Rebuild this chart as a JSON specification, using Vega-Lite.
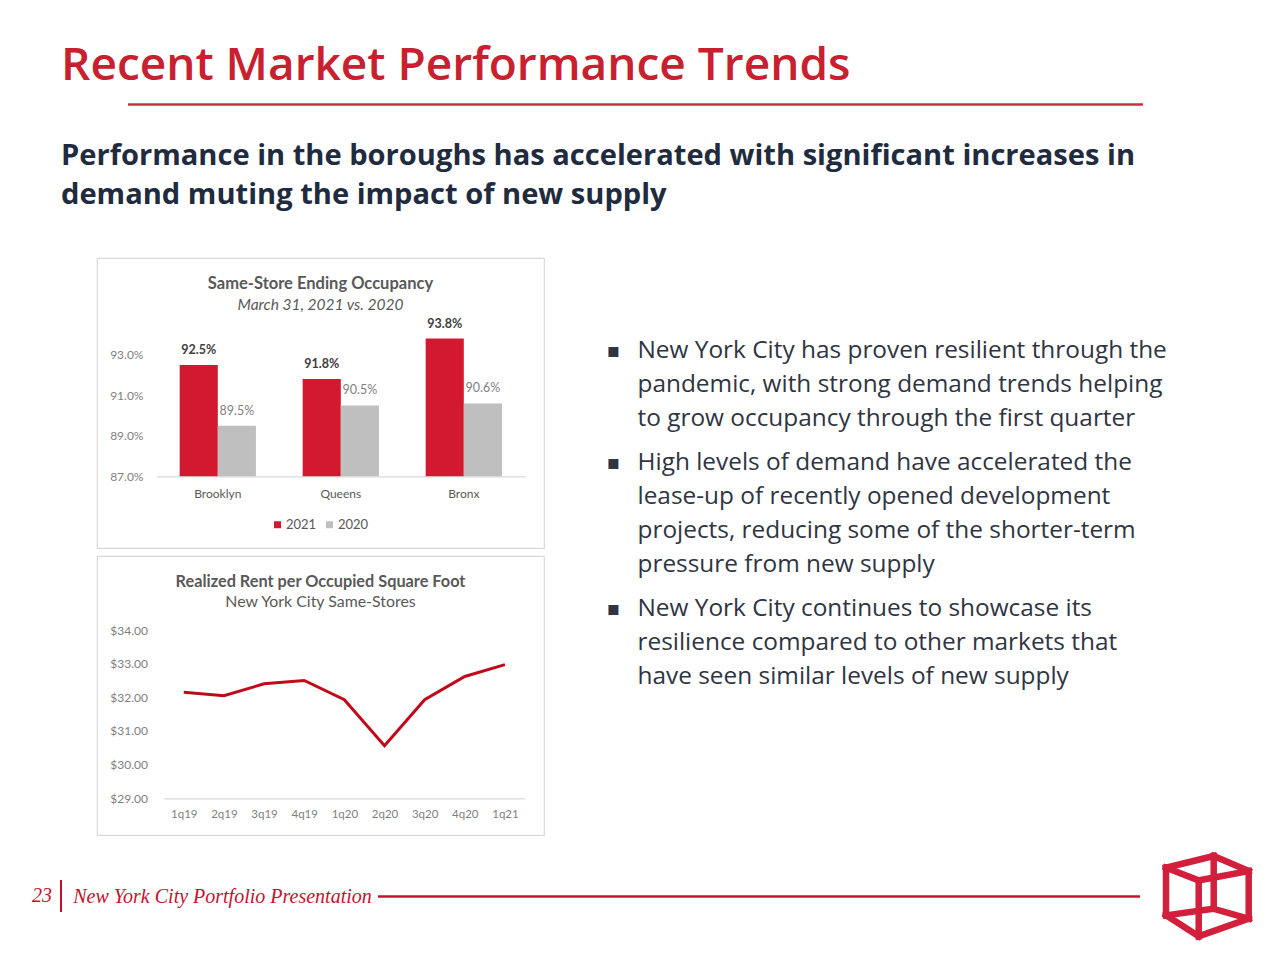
{
  "$schema": "https://vega.github.io/schema/vega-lite/v6.json",
  "background": "white",
  "padding": {"left": 0, "top": 43, "right": 0, "bottom": 0},
  "title": {"text": "Recent Market Performance Trends", "anchor": "start", "frame": "bounds", "dx": 61, "offset": 13, "font": "Open Sans", "fontSize": 46, "fontWeight": 600, "color": "#c8202f", "baseline": "top"},
  "config": {"view": {"stroke": null}, "font": "Lato", "axis": {"grid": false}},
  "datasets": {
    "bullets": [
      {"p": 1, "line": 1, "text": "New York City has proven resilient through the"},
      {"p": 1, "line": 2, "text": "pandemic, with strong demand trends helping"},
      {"p": 1, "line": 3, "text": "to grow occupancy through the first quarter"},
      {"p": 2, "line": 1, "text": "High levels of demand have accelerated the"},
      {"p": 2, "line": 2, "text": "lease-up of recently opened development"},
      {"p": 2, "line": 3, "text": "projects, reducing some of the shorter-term"},
      {"p": 2, "line": 4, "text": "pressure from new supply"},
      {"p": 3, "line": 1, "text": "New York City continues to showcase its"},
      {"p": 3, "line": 2, "text": "resilience compared to other markets that"},
      {"p": 3, "line": 3, "text": "have seen similar levels of new supply"}
    ],
    "logo": [
      {"x1": 4, "y1": 15.7, "x2": 51.7, "y2": 4},
      {"x1": 51.7, "y1": 4, "x2": 86.7, "y2": 19},
      {"x1": 86.7, "y1": 19, "x2": 36.7, "y2": 28.3},
      {"x1": 36.7, "y1": 28.3, "x2": 4, "y2": 15.7},
      {"x1": 4, "y1": 63.3, "x2": 51.7, "y2": 56.7},
      {"x1": 51.7, "y1": 56.7, "x2": 86.7, "y2": 66.7},
      {"x1": 86.7, "y1": 66.7, "x2": 36.7, "y2": 84.3},
      {"x1": 36.7, "y1": 84.3, "x2": 4, "y2": 63.3},
      {"x1": 4, "y1": 15.7, "x2": 4, "y2": 63.3},
      {"x1": 51.7, "y1": 4, "x2": 51.7, "y2": 56.7},
      {"x1": 86.7, "y1": 19, "x2": 86.7, "y2": 66.7},
      {"x1": 36.7, "y1": 28.3, "x2": 36.7, "y2": 84.3}
    ]
  },
  "spacing": 15,
  "vconcat": [
    {
      "spacing": 46,
      "vconcat": [
        {
          "width": 1143,
          "height": 3,
          "data": {"values": [{"a": 0, "b": 1}]},
          "mark": {"type": "rule", "color": "#d12e3d", "strokeWidth": 2.5},
          "encoding": {
            "x": {"field": "a", "type": "quantitative", "scale": {"domain": [0, 1], "range": [128, 1143], "nice": false, "zero": false}, "axis": null},
            "x2": {"field": "b"}
          },
          "title": {"text": ["Performance in the boroughs has accelerated with significant increases in", "demand muting the impact of new supply"], "orient": "bottom", "anchor": "start", "frame": "group", "dx": 61, "offset": 36, "font": "Open Sans", "fontSize": 29.1, "fontWeight": "bold", "color": "#1f2b3e", "lineHeight": 39, "baseline": "top"}
        },
        {
          "spacing": 58,
          "hconcat": [
            {"width": 38, "height": 10, "data": {"values": [{}]}, "mark": {"type": "point", "opacity": 0}, "encoding": {}},
            {
              "spacing": 6,
              "vconcat": [
                {
                  "width": 447,
                  "height": 290,
                  "view": {"stroke": "#d9d9d9", "strokeWidth": 1.2},
                  "title": {"text": "Same-Store Ending Occupancy", "subtitle": "March 31, 2021 vs. 2020", "anchor": "middle", "frame": "group", "offset": -55, "font": "Lato", "fontSize": 16.5, "fontWeight": "bold", "color": "#595959", "subtitleFont": "Lato", "subtitleFontSize": 15.5, "subtitleFontStyle": "italic", "subtitleColor": "#595959", "subtitlePadding": 5},
                  "data": {"values": [
                    {"borough": "Brooklyn", "year": "2021", "occ": 0.925},
                    {"borough": "Brooklyn", "year": "2020", "occ": 0.895},
                    {"borough": "Queens", "year": "2021", "occ": 0.918},
                    {"borough": "Queens", "year": "2020", "occ": 0.905},
                    {"borough": "Bronx", "year": "2021", "occ": 0.938},
                    {"borough": "Bronx", "year": "2020", "occ": 0.906}
                  ]},
                  "encoding": {
                    "x": {"field": "borough", "type": "nominal", "sort": ["Brooklyn", "Queens", "Bronx"], "scale": {"range": [59.3, 428.3], "paddingInner": 0.38, "paddingOuter": 0.19},
                      "axis": {"title": null, "orient": "bottom", "offset": -71.7, "domainColor": "#d9d9d9", "domainWidth": 1.2, "ticks": false, "labelPadding": 12, "labelAngle": 0, "labelFont": "Lato", "labelFontSize": 12, "labelColor": "#595959"}},
                    "xOffset": {"field": "year", "type": "nominal", "sort": ["2021", "2020"]},
                    "y": {"field": "occ", "type": "quantitative", "scale": {"domain": [0.87, 0.95], "range": [218.3, 56.3], "nice": false, "zero": false},
                      "axis": {"title": null, "offset": -50, "labelPadding": 4, "ticks": false, "domain": false, "values": [0.87, 0.89, 0.91, 0.93], "format": ".1%", "labelFont": "Lato", "labelFontSize": 12, "labelColor": "#7f7f7f"}}
                  },
                  "layer": [
                    {"mark": {"type": "bar"},
                     "encoding": {
                       "y2": {"datum": 0.87},
                       "color": {"field": "year", "type": "nominal", "sort": ["2021", "2020"], "scale": {"domain": ["2021", "2020"], "range": ["#d2192f", "#bfbfbf"]},
                       "legend": {"title": null, "orient": "none", "legendX": 271, "legendY": 415, "direction": "horizontal", "symbolType": "square", "symbolSize": 49, "symbolStrokeWidth": 0, "labelFont": "Lato", "labelFontSize": 13, "labelColor": "#595959", "labelOffset": 2, "columnPadding": 6}}}},
                    {"transform": [{"filter": "datum.year == '2021'"}],
                     "mark": {"type": "text", "baseline": "bottom", "dy": -8, "font": "Lato", "fontSize": 12.5, "fontWeight": "bold", "color": "#404040"},
                     "encoding": {"text": {"field": "occ", "format": ".1%"}}},
                    {"transform": [{"filter": "datum.year == '2020'"}],
                     "mark": {"type": "text", "baseline": "bottom", "dy": -8, "font": "Lato", "fontSize": 12.5, "color": "#7f7f7f"},
                     "encoding": {"text": {"field": "occ", "format": ".1%"}}}
                  ]
                },
                {
                  "width": 447,
                  "height": 279,
                  "view": {"stroke": "#d9d9d9", "strokeWidth": 1.2},
                  "title": {"text": "Realized Rent per Occupied Square Foot", "subtitle": "New York City Same-Stores", "anchor": "middle", "frame": "group", "offset": -54, "font": "Lato", "fontSize": 16.3, "fontWeight": "bold", "color": "#595959", "subtitleFont": "Lato", "subtitleFontSize": 15.9, "subtitleColor": "#595959", "subtitlePadding": 4},
                  "data": {"values": [
                    {"q": "1q19", "rent": 32.15},
                    {"q": "2q19", "rent": 32.05},
                    {"q": "3q19", "rent": 32.4},
                    {"q": "4q19", "rent": 32.5},
                    {"q": "1q20", "rent": 31.93},
                    {"q": "2q20", "rent": 30.56},
                    {"q": "3q20", "rent": 31.93},
                    {"q": "4q20", "rent": 32.62},
                    {"q": "1q21", "rent": 32.97}
                  ]},
                  "mark": {"type": "line", "color": "#c00a1a", "strokeWidth": 3},
                  "encoding": {
                    "x": {"field": "q", "type": "ordinal", "sort": null, "scale": {"range": [66.7, 428], "padding": 0.5},
                      "axis": {"title": null, "offset": -36.7, "domainColor": "#d9d9d9", "domainWidth": 1.2, "ticks": false, "labelPadding": 10, "labelAngle": 0, "labelFont": "Lato", "labelFontSize": 11.5, "labelColor": "#7f7f7f"}},
                    "y": {"field": "rent", "type": "quantitative", "scale": {"domain": [29, 34], "range": [242.3, 74], "nice": false, "zero": false},
                      "axis": {"title": null, "offset": -54, "labelPadding": 3.5, "ticks": false, "domain": false, "values": [29, 30, 31, 32, 33, 34], "format": "$.2f", "labelFont": "Lato", "labelFontSize": 12, "labelColor": "#7f7f7f"}}
                  }
                }
              ]
            },
            {
              "spacing": 10,
              "vconcat": [
                {"width": 1, "height": 66, "data": {"values": [{}]}, "mark": {"type": "point", "opacity": 0}, "encoding": {}},
                {
                  "width": 1, "height": {"step": 34},
                  "data": {"name": "bullets"},
                  "transform": [{"filter": "datum.p == 1"}],
                  "encoding": {"y": {"field": "line", "type": "ordinal", "axis": null}},
                  "layer": [
                    {"mark": {"type": "text", "align": "left", "baseline": "middle", "dx": 31, "font": "Open Sans", "fontSize": 24.4, "color": "#2f3542"}, "encoding": {"text": {"field": "text"}}},
                    {"transform": [{"filter": "datum.line == 1"}], "mark": {"type": "text", "align": "left", "baseline": "middle", "font": "DejaVu Sans", "fontSize": 20, "color": "#2f3542"}, "encoding": {"text": {"value": "▪"}}}
                  ]
                },
                {
                  "width": 1, "height": {"step": 34},
                  "data": {"name": "bullets"},
                  "transform": [{"filter": "datum.p == 2"}],
                  "encoding": {"y": {"field": "line", "type": "ordinal", "axis": null}},
                  "layer": [
                    {"mark": {"type": "text", "align": "left", "baseline": "middle", "dx": 31, "font": "Open Sans", "fontSize": 24.4, "color": "#2f3542"}, "encoding": {"text": {"field": "text"}}},
                    {"transform": [{"filter": "datum.line == 1"}], "mark": {"type": "text", "align": "left", "baseline": "middle", "font": "DejaVu Sans", "fontSize": 20, "color": "#2f3542"}, "encoding": {"text": {"value": "▪"}}}
                  ]
                },
                {
                  "width": 1, "height": {"step": 34},
                  "data": {"name": "bullets"},
                  "transform": [{"filter": "datum.p == 3"}],
                  "encoding": {"y": {"field": "line", "type": "ordinal", "axis": null}},
                  "layer": [
                    {"mark": {"type": "text", "align": "left", "baseline": "middle", "dx": 31, "font": "Open Sans", "fontSize": 24.4, "color": "#2f3542"}, "encoding": {"text": {"field": "text"}}},
                    {"transform": [{"filter": "datum.line == 1"}], "mark": {"type": "text", "align": "left", "baseline": "middle", "font": "DejaVu Sans", "fontSize": 20, "color": "#2f3542"}, "encoding": {"text": {"value": "▪"}}}
                  ]
                }
              ]
            }
          ]
        }
      ]
    },
    {
      "spacing": 11,
      "center": true,
      "hconcat": [
        {"width": 21, "height": 10, "data": {"values": [{}]}, "mark": {"type": "point", "opacity": 0}, "encoding": {}},
        {
          "width": 2, "height": 32,
          "data": {"values": [{"s": "|"}]},
          "mark": {"type": "rule", "color": "#c8102e", "strokeWidth": 2},
          "encoding": {"x": {"field": "s", "type": "nominal", "axis": null}},
          "title": {"text": "23", "orient": "left", "angle": 0, "align": "left", "baseline": "middle", "anchor": "middle", "offset": 8, "font": "Liberation Serif", "fontStyle": "italic", "fontWeight": "normal", "fontSize": 20, "color": "#c8102e"}
        },
        {
          "width": 762, "height": 38,
          "data": {"values": [{"r": "-"}]},
          "mark": {"type": "rule", "color": "#c8102e", "strokeWidth": 2.5},
          "encoding": {"y": {"field": "r", "type": "nominal", "axis": null}},
          "title": {"text": "New York City Portfolio Presentation", "orient": "left", "angle": 0, "align": "left", "baseline": "middle", "anchor": "middle", "offset": 5, "font": "Liberation Serif", "fontStyle": "italic", "fontWeight": "normal", "fontSize": 20, "color": "#c8102e"}
        },
        {
          "width": 99, "height": 88,
          "data": {"name": "logo"},
          "mark": {"type": "rule", "color": "#d21f3c", "strokeWidth": 6.5, "strokeCap": "square"},
          "encoding": {
            "x": {"field": "x1", "type": "quantitative", "scale": {"domain": [-9, 90], "nice": false, "zero": false}, "axis": null},
            "y": {"field": "y1", "type": "quantitative", "scale": {"domain": [0, 88], "nice": false, "zero": false, "reverse": true}, "axis": null},
            "x2": {"field": "x2"},
            "y2": {"field": "y2"}
          }
        }
      ]
    }
  ]
}
